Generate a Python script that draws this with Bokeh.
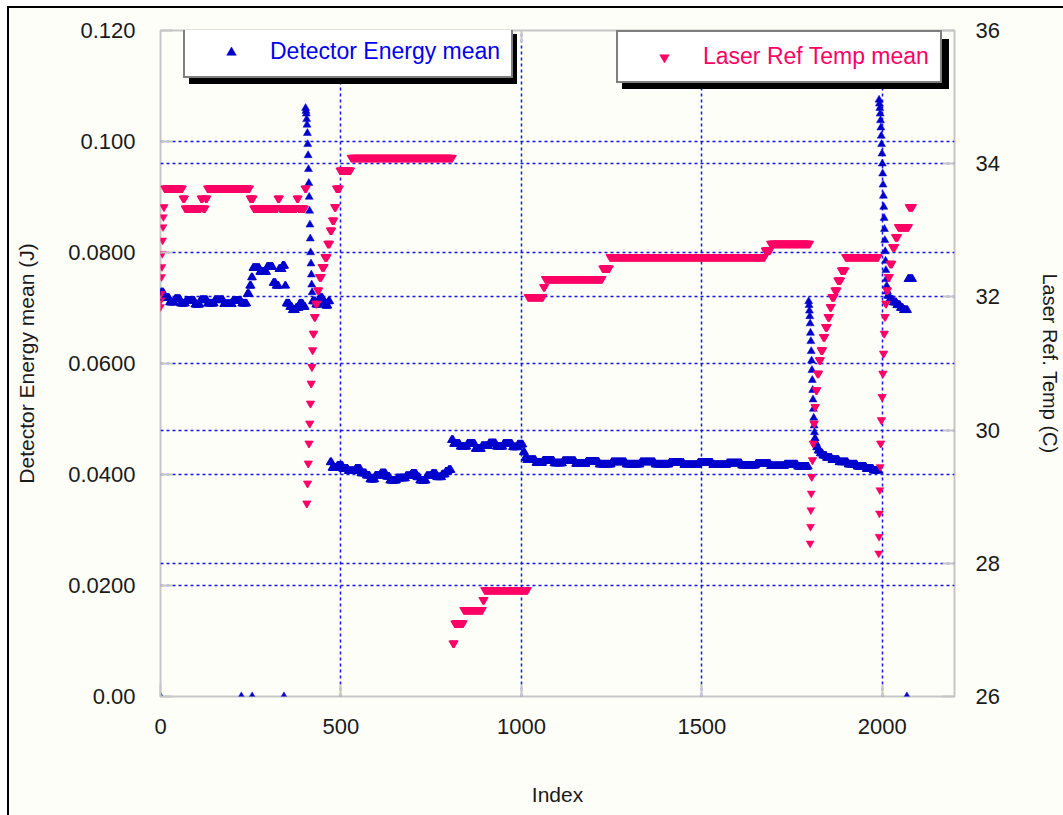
from bokeh.plotting import figure
from bokeh.models import (ColumnDataSource, Range1d, LinearAxis, FixedTicker, Grid,
                          Legend, LegendItem)
from bokeh.embed import file_html
from bokeh.resources import INLINE

# ---------------- data ----------------
n_points = 2085

# Detector energy mean (J): index where a level starts, and that level
energy_start = [0, 1,
                9, 25, 40, 55, 70, 95, 110, 130, 150, 175, 200, 225,
                240, 247, 252,
                256, 275, 295, 312, 320, 328, 338, 345,
                348, 358, 365, 375, 385, 395,
                402, 403, 404, 405, 406, 407, 408, 409, 410, 411,
                412, 413, 414, 415, 416, 417, 418, 419, 420,
                421, 430, 440, 450, 458, 465,
                470, 475, 490, 505, 520, 540, 555, 570, 580, 595,
                610, 625, 635, 655, 680, 695, 710, 718, 737, 752,
                765, 780, 790, 798,
                806, 812, 830, 850, 872, 890, 910, 930, 950, 975,
                990, 1005, 1010,
                1015, 1040, 1060, 1090, 1115, 1150, 1180, 1215, 1250, 1290,
                1330, 1370, 1410, 1450, 1490, 1530, 1570, 1610, 1650, 1690,
                1730, 1765,
                1796, 1797, 1798, 1799, 1800, 1801, 1802, 1803, 1804, 1805,
                1806, 1807, 1808, 1809, 1810, 1811, 1812, 1813, 1815, 1818,
                1822, 1828, 1835, 1845, 1860, 1880, 1905, 1930, 1955, 1975,
                1991, 1992, 1993, 1994, 1995, 1996, 1997, 1998, 1999, 2000,
                2001, 2002, 2003, 2004, 2005, 2006, 2007, 2008, 2009, 2010,
                2011, 2012, 2013,
                2015, 2020, 2030, 2040, 2050, 2058, 2071]
energy_level = [0.0725, 0.0728,
                0.0718, 0.0710, 0.0716, 0.0708, 0.0713, 0.0706, 0.0714, 0.0708, 0.0714, 0.0707, 0.0713, 0.0708,
                0.0725, 0.0740, 0.0755,
                0.0772, 0.0765, 0.0774, 0.0745, 0.0740, 0.0770, 0.0776, 0.0740,
                0.0708, 0.0702, 0.0696, 0.0700, 0.0708, 0.0702,
                0.1060, 0.1055, 0.1050, 0.1040, 0.1030, 0.1015, 0.0995, 0.0975, 0.0950, 0.0925,
                0.0900, 0.0875, 0.0850, 0.0825, 0.0800, 0.0780, 0.0760, 0.0742, 0.0728,
                0.0712, 0.0706, 0.0718, 0.0710, 0.0704, 0.0712,
                0.0422, 0.0412, 0.0416, 0.0410, 0.0406, 0.0410, 0.0402, 0.0398, 0.0391, 0.0398,
                0.0402, 0.0396, 0.0389, 0.0393, 0.0397, 0.0401, 0.0395, 0.0389, 0.0397, 0.0401,
                0.0395, 0.0400, 0.0405, 0.0408,
                0.0462, 0.0455, 0.0450, 0.0455, 0.0446, 0.0451, 0.0456, 0.0450, 0.0455, 0.0449,
                0.0454, 0.0440, 0.0430,
                0.0426, 0.0421, 0.0425, 0.0420, 0.0424, 0.0419, 0.0423, 0.0418, 0.0422, 0.0418,
                0.0422, 0.0418, 0.0421, 0.0417, 0.0421, 0.0417, 0.0420, 0.0416, 0.0419, 0.0415,
                0.0418, 0.0414,
                0.0712, 0.0705, 0.0695, 0.0685, 0.0672, 0.0655, 0.0640, 0.0622, 0.0605, 0.0588,
                0.0570, 0.0552, 0.0535, 0.0518, 0.0502, 0.0488, 0.0476, 0.0465, 0.0456, 0.0449,
                0.0443, 0.0438, 0.0434, 0.0430, 0.0426, 0.0422, 0.0418, 0.0414, 0.0410, 0.0407,
                0.1075, 0.1068, 0.1060, 0.1050, 0.1038, 0.1025, 0.1010, 0.0995, 0.0978, 0.0960,
                0.0942, 0.0922, 0.0902, 0.0882, 0.0862, 0.0842, 0.0822, 0.0802, 0.0785, 0.0768,
                0.0752, 0.0740, 0.0730,
                0.0722, 0.0715, 0.0710, 0.0705, 0.0700, 0.0696, 0.0752]
# indices where the detector reading dropped to zero
energy_dropout_index = [0, 224, 254, 342, 2068]

# Laser reference temperature mean (C)
temp_start = [0, 1, 2, 3, 4, 5, 6, 7, 8, 9, 11,
              62, 68, 112, 118, 125, 130,
              248, 258, 325, 331, 378, 383, 400,
              405, 407, 409, 411, 413, 415, 417, 419, 421, 423,
              426, 430, 435, 440, 447, 455, 463, 470, 476, 482,
              487, 497, 528,
              810, 815, 840, 893, 898,
              1018, 1061, 1066, 1225, 1245, 1675, 1690,
              1800, 1801, 1802, 1803, 1804, 1806, 1808, 1810, 1813, 1816,
              1820, 1825, 1830, 1836, 1842, 1849, 1855, 1860, 1868, 1876,
              1886, 1898,
              1990, 1991, 1992, 1993, 1994, 1995, 1997, 1999, 2001, 2003,
              2005, 2007, 2009, 2012, 2016, 2021, 2028, 2036, 2044, 2074]
temp_level = [31.85, 31.95, 32.05, 32.3, 32.45, 32.65, 32.85, 33.05, 33.2, 33.35, 33.63,
              33.48, 33.33, 33.48, 33.33, 33.48, 33.63,
              33.48, 33.33, 33.48, 33.33, 33.48, 33.33, 33.63,
              28.9, 29.2, 29.5, 29.8, 30.1, 30.4, 30.7, 30.95, 31.2, 31.45,
              31.7, 31.9, 32.1, 32.3, 32.45, 32.6, 32.8, 33.0, 33.15, 33.35,
              33.63, 33.9, 34.09,
              26.8, 27.1, 27.3, 27.45, 27.6,
              32.0, 32.15, 32.27, 32.43, 32.6, 32.7, 32.8,
              28.3, 28.55, 28.8, 29.05, 29.3, 29.55, 29.8, 30.1, 30.35, 30.6,
              30.85, 31.05, 31.2, 31.4, 31.55, 31.7, 31.85, 32.0, 32.1, 32.25,
              32.4, 32.6,
              28.15, 28.4, 28.75, 29.1, 29.45, 29.8, 30.15, 30.5, 30.85, 31.15,
              31.45, 31.7, 31.9, 32.1, 32.3, 32.5, 32.75, 32.9, 33.05, 33.35]

x_ticks = [0, 500, 1000, 1500, 2000]
energy_ticks = [0.0, 0.02, 0.04, 0.06, 0.08, 0.10, 0.12]
energy_tick_labels = ["0.00", "0.0200", "0.0400", "0.0600", "0.0800", "0.100", "0.120"]
temp_ticks = [26, 28, 30, 32, 34, 36]


def expand(starts, levels, n):
    xs, ys = [], []
    for i, s in enumerate(starts):
        e = starts[i + 1] if i + 1 < len(starts) else n
        for k in range(s, e):
            xs.append(k)
            ys.append(levels[i])
    return xs, ys


ex, ey = expand(energy_start, energy_level, n_points)
for k in energy_dropout_index:
    ey[k] = 0.0
tx, ty = expand(temp_start, temp_level, n_points)

# ---------------- styling ----------------
FONT = "Liberation Sans"
GREY = "#C6C6C6"
BLUE = "#0000CC"
PINK = "#FF0066"
GRIDC = "#1414F0"

p = figure(width=1063, height=815, output_backend="svg", toolbar_location=None,
           x_range=Range1d(0, 2200), y_range=Range1d(0, 0.12),
           min_border_left=160, min_border_right=107, min_border_top=30, min_border_bottom=119,
           background_fill_color="#FEFEF9", border_fill_color=None)
p.styles = {"background": ("linear-gradient(#000,#000) 7px 6px / 1056px 2px no-repeat, "
                           "linear-gradient(#000,#000) 7px 6px / 2px 809px no-repeat, "
                           "linear-gradient(#FEFEF9,#FEFEF9) 9px 8px / 1054px 807px no-repeat, "
                           "#FFFFFF")}
p.outline_line_color = GREY
p.outline_line_width = 2
p.extra_y_ranges = {"temp": Range1d(26, 36)}

# grids
p.xgrid.ticker = FixedTicker(ticks=[500, 1000, 1500, 2000])
p.ygrid.ticker = FixedTicker(ticks=[0.02, 0.04, 0.06, 0.08, 0.10])
for g in (p.xgrid[0], p.ygrid[0]):
    g.grid_line_color = GRIDC
    g.grid_line_dash = "3 3"
    g.grid_line_width = 1.5
tgrid = Grid(dimension=1, y_range_name="temp", ticker=FixedTicker(ticks=[28, 30, 32, 34]),
             grid_line_color=GRIDC, grid_line_dash="3 3", grid_line_width=1.5)
p.add_layout(tgrid)


def style_axis(ax):
    ax.axis_line_color = None
    ax.major_tick_in = 12
    ax.major_tick_out = 0
    ax.major_tick_line_color = GREY
    ax.major_tick_line_width = 2
    ax.minor_tick_line_color = None
    ax.major_label_text_font = FONT
    ax.major_label_text_font_size = "22px"
    ax.major_label_text_color = "#1A1A1A"
    ax.axis_label_text_font = FONT
    ax.axis_label_text_font_size = "21px"
    ax.axis_label_text_font_style = "normal"
    ax.axis_label_text_color = "#1A1A1A"


xa = p.xaxis[0]
xa.ticker = FixedTicker(ticks=x_ticks)
xa.axis_label = "Index"
style_axis(xa)
xa.major_label_standoff = 22
xa.axis_label_standoff = 46

ya = p.yaxis[0]
ya.ticker = FixedTicker(ticks=energy_ticks)
ya.major_label_overrides = {t: l for t, l in zip(energy_ticks, energy_tick_labels)}
ya.axis_label = "Detector Energy mean (J)"
style_axis(ya)
ya.major_label_standoff = 25
ya.axis_label_standoff = 27

ra = LinearAxis(y_range_name="temp", ticker=FixedTicker(ticks=temp_ticks),
                axis_label="Laser Ref. Temp (C)")
style_axis(ra)
ra.axis_label_text_font_size = "20px"
ra.major_label_standoff = 21
ra.axis_label_standoff = 36
p.add_layout(ra, "right")

ta = LinearAxis(ticker=FixedTicker(ticks=[500, 1000, 1500, 2000]))
style_axis(ta)
ta.major_label_text_font_size = "1px"
ta.major_label_text_color = None
ta.major_label_standoff = 0
p.add_layout(ta, "above")

# data
src_e = ColumnDataSource(dict(x=ex, y=ey))
src_t = ColumnDataSource(dict(x=tx, y=ty))
r_e = p.scatter("x", "y", source=src_e, marker="triangle", size=8,
                fill_color=BLUE, line_color=BLUE, line_width=0.5)
r_t = p.scatter("x", "y", source=src_t, marker="inverted_triangle", size=8,
                fill_color=PINK, line_color=PINK, line_width=0.5, y_range_name="temp")


def make_legend(label, rend, loc, color, glyph_w=70):
    return Legend(items=[LegendItem(label=label, renderers=[rend])], location=loc,
                  orientation="vertical", padding=11, spacing=0,
                  glyph_width=glyph_w, glyph_height=24, label_height=24, label_standoff=4,
                  label_width=4,
                  label_text_font=FONT, label_text_font_size="23px",
                  label_text_color=color,
                  background_fill_color=("#000000" if color is None else "#FFFFFF"),
                  background_fill_alpha=1.0,
                  border_line_color="#000000", border_line_width=2)


# black drop shadows behind the legend boxes (same box size, shifted 6px right/down)
p.add_layout(make_legend(" ", r_e, (29, 612), None, glyph_w=294), "center")
p.add_layout(make_legend(" ", r_t, (462, 607), None, glyph_w=293), "center")
p.add_layout(make_legend("Detector Energy mean", r_e, (23, 618), "#0000EE"), "center")
p.add_layout(make_legend("Laser Ref Temp mean", r_t, (456, 613), PINK), "center")

open("out.html", "w").write(file_html(p, INLINE))
